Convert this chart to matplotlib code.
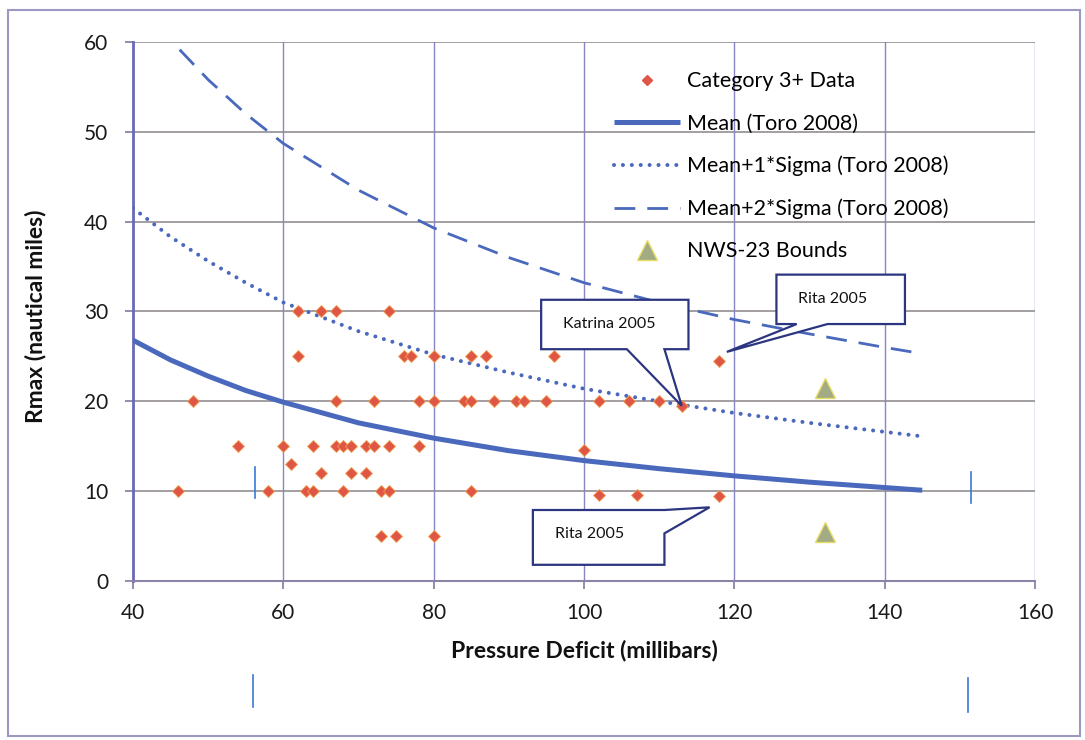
import numpy as np
import matplotlib
matplotlib.use("Agg")
import matplotlib.pyplot as plt
from matplotlib.patches import Polygon, Rectangle
from matplotlib.lines import Line2D

plt.rcParams['font.family'] = ['Lato', 'DejaVu Sans']

# Category 3+ storms: pressure deficit (mb) and Rmax (nmi)
cat3_dp = [46, 48, 54, 58, 60, 61, 62, 62, 63, 64, 64, 65, 65, 67, 67, 67, 68, 68,
           69, 69, 71, 71, 72, 72, 73, 73, 74, 74, 74, 75, 76, 77, 78, 78, 80, 80,
           80, 84, 85, 85, 85, 87, 88, 91, 92, 95, 96, 100, 102, 102, 106, 107,
           110, 113, 118, 118]
cat3_rmax = [10, 20, 15, 10, 15, 13, 30, 25, 10, 15, 10, 30, 12, 30, 20, 15, 15, 10,
             15, 12, 15, 12, 20, 15, 10, 5, 30, 15, 10, 5, 25, 25, 20, 15, 25, 20,
             5, 20, 25, 20, 10, 25, 20, 20, 20, 20, 25, 14.6, 20, 9.6, 20, 9.6,
             20, 19.5, 24.5, 9.5]

# Toro (2008) Rmax relation
toro_dp = [40, 45, 50, 55, 60, 70, 80, 90, 100, 110, 120, 130, 140, 145]
toro_mean = [26.8, 24.6, 22.8, 21.2, 19.9, 17.6, 15.9, 14.5, 13.4, 12.5, 11.7, 11.0, 10.4, 10.1]
toro_plus1 = [41.5, 38.3, 35.6, 33.2, 31.0, 27.8, 25.2, 23.2, 21.4, 20.0, 18.7, 17.6, 16.6, 16.1]
toro_plus2 = [65.5, 60.2, 55.8, 52.0, 48.7, 43.5, 39.3, 36.0, 33.2, 31.0, 29.1, 27.5, 26.0, 25.3]

# NWS-23 bounds
nws_dp = [132, 132]
nws_rmax = [21.5, 5.4]

# labelled storms
storm_names = ['Katrina 2005', 'Rita 2005', 'Rita 2005']
storm_dp = [113, 118, 118]
storm_rmax = [19.5, 24.5, 9.5]

x_ticks = [40, 60, 80, 100, 120, 140, 160]
y_ticks = [0, 10, 20, 30, 40, 50, 60]

line_blue = '#4a69bd'
red = '#e05646'
navy = '#2c3580'
hgrid = '#928e92'
vgrid = '#8886c6'
tri_fill = '#a2ab84'

fig = plt.figure(figsize=(10.85, 7.40), dpi=100)
ax = fig.add_axes([0.1226, 0.2149, 0.8313, 0.7284])

ax.set_xlim(40, 160)
ax.set_ylim(0, 60)
ax.set_xticks(x_ticks)
ax.set_yticks(y_ticks)

for y in y_ticks[1:]:
    ax.axhline(y, color=hgrid, lw=1.2, zorder=1)
for x in x_ticks[1:]:
    ax.axvline(x, color=vgrid, lw=1.0, zorder=1)

for s in ['top', 'right']:
    ax.spines[s].set_visible(False)
ax.spines['left'].set_color('#6a68b8')
ax.spines['left'].set_linewidth(2.0)
ax.spines['bottom'].set_color('#8c84a8')
ax.spines['bottom'].set_linewidth(1.5)

ax.tick_params(axis='both', direction='out', length=6, width=1.3, colors='#8c84a8',
               labelcolor='#1a1a1a', labelsize=15)
ax.tick_params(axis='x', pad=10)
ax.tick_params(axis='y', pad=12)

ax.plot(toro_dp, toro_mean, color=line_blue, lw=3.6, solid_capstyle='butt', zorder=3,
        label='Mean (Toro 2008)')
ax.plot(toro_dp, toro_plus1, color=line_blue, lw=2.9, linestyle=(0, (0.01, 2.2)),
        dash_capstyle='round', zorder=3, label='Mean+1*Sigma (Toro 2008)')
ax.plot(toro_dp, toro_plus2, color=line_blue, lw=2.0, linestyle=(0, (7.5, 4.3)),
        zorder=3, label='Mean+2*Sigma (Toro 2008)')
ax.plot(cat3_dp, cat3_rmax, linestyle='none', marker='D', ms=6, color=red,
        mec='#f0a050', mew=0.6, zorder=5, label='Category 3+ Data')
ax.plot(nws_dp, nws_rmax, linestyle='none', marker='^', ms=15, color=tri_fill,
        mec='#e6dc66', mew=1.0, zorder=5, label='NWS-23 Bounds')

ax.set_xlabel('Pressure Deficit (millibars)', fontsize=16.5, fontweight='bold',
              color='#111111', labelpad=12)
ax.set_ylabel('Rmax (nautical miles)', fontsize=16.5, fontweight='bold',
              color='#111111')
ax.yaxis.set_label_coords(-0.096, 0.492)

# legend in the order Excel shows it
h = {l: hd for hd, l in zip(*ax.get_legend_handles_labels())}
order = ['Category 3+ Data', 'Mean (Toro 2008)', 'Mean+1*Sigma (Toro 2008)',
         'Mean+2*Sigma (Toro 2008)', 'NWS-23 Bounds']
leg_handles = [h[k] for k in order]
leg_handles[0] = Line2D([], [], linestyle='none', marker='D', ms=5, color=red)
leg_handles[4] = Line2D([], [], linestyle='none', marker='^', ms=14, color=tri_fill,
                        mec='#e6dc66', mew=1.0)
ax.legend(leg_handles, order, loc='upper left', bbox_to_anchor=(0.566, 0.9036),
          bbox_transform=fig.transFigure, frameon=False, fontsize=15.5,
          handlelength=3.07, handletextpad=0.33, labelspacing=1.03,
          borderpad=0, borderaxespad=0)


def callout(box, base, tip, text, text_xy, edge='bottom'):
    """Rectangular callout with a wedge pointer, all in data coordinates."""
    x0, x1, y0, y1 = box
    if edge == 'bottom':
        pts = [(x0, y1), (x1, y1), (x1, y0), (base[1], y0), tip, (base[0], y0), (x0, y0)]
    else:
        pts = [(x0, y1), (x1, y1), tip, (x1, base[1]), (x1, y0), (x0, y0)]
    ax.add_patch(Polygon(pts, closed=True, fc='white', ec=navy, lw=1.6, zorder=6))
    ax.text(text_xy[0], text_xy[1], text, fontsize=11.5, color='#111111',
            ha='center', va='center', zorder=7)


# Katrina
callout((94.3, 113.9, 25.8, 31.3), (105.7, 110.7),
        (storm_dp[0], storm_rmax[0]), storm_names[0], (103.4, 28.6))
# Rita, upper point
callout((125.6, 142.7, 28.6, 34.1), (128.3, 132.4),
        (storm_dp[1] + 1.0, storm_rmax[1] + 1.0), storm_names[1], (133.1, 31.4))
# Rita, lower point
callout((93.2, 110.7, 1.8, 7.9), (7.9, 5.3),
        (storm_dp[2] - 1.3, storm_rmax[2] - 1.3), storm_names[2], (100.8, 5.2),
        edge='right')

# page border
fig.patches.append(Rectangle((0.0074, 0.0054), 0.988, 0.981, transform=fig.transFigure,
                             fill=False, ec='#9c98c4', lw=1.5))

# small blue registration marks
for mx, my0, my1 in [(253, 675, 707), (968, 678, 712), (255, 467, 498), (971, 472, 503)]:
    fig.add_artist(Line2D([mx / 1085, mx / 1085], [1 - my0 / 740, 1 - my1 / 740],
                          color='#3a78d8', lw=1.2))

fig.savefig('out.png', dpi=100)
